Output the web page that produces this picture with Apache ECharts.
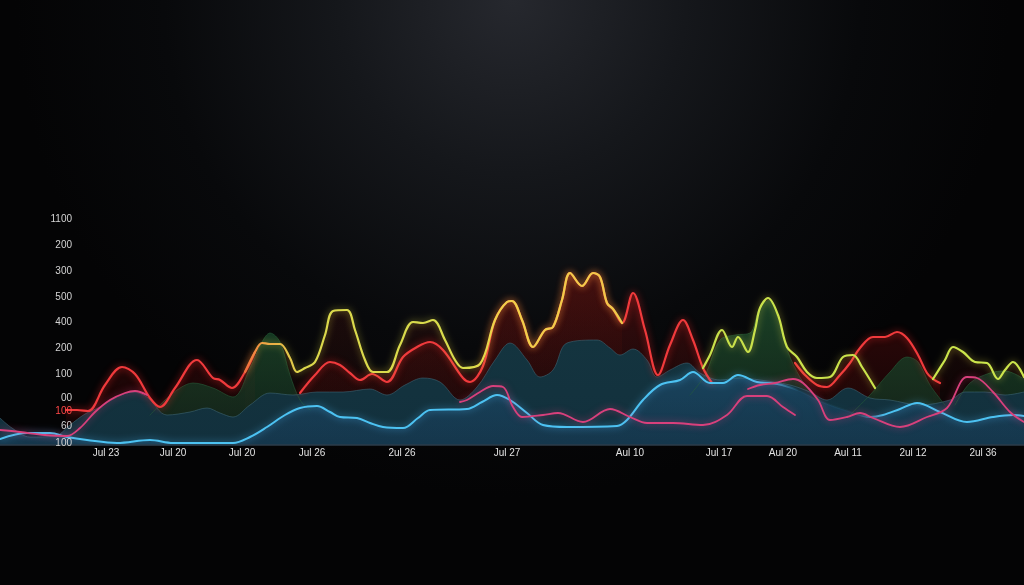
<!DOCTYPE html>
<html><head><meta charset="utf-8">
<script src="https://cdn.jsdelivr.net/npm/echarts@6/dist/echarts.min.js"></script>
<style>html,body{margin:0;padding:0;background:#050506;}#c{width:1024px;height:585px;}</style>
</head><body><div id="c"></div><script>
// ---- tick labels ----
const xTickPos = [106,173,242,312,402,507,630,719,783,848,913,983];
const xTickLabels = ["Jul 23","Jul 20","Jul 20","Jul 26","2ul 26","Jul 27","Aul 10","Jul 17","Aul 20","Aul 11","2ul 12","2ul 36"];
const yTickPos = [1.7,18.3,33.3,46.7,71,96.7,122.7,147.7,173.3,199.3,226];
const yTickLabels = ["100","60","100","00","100","200","400","500","300","200","1100"];

// ---- series values [t, value]; null = gap ----
const redVals = [[66,35],[77,35],[88,34],[105,60],[122,78],[135,71],[150,47],[160,38],[175,57],[197,85],[213,67],[220,65],[232,57],[245,73],[255,93],[265,null],
 [300,52],[315,70],[330,83],[340,80],[350,72],[360,65],[372,71],[387,63],[403,88],[417,98],[430,103],[443,95],[463,67],[470,63],[483,79],
 [495,125],[507,143],[512,144],[522,125],[533,98],[545,115],[553,118],[562,145],[570,172],[582,159],[593,172],[600,168],[607,142],[613,136],[622,122],
 [633,152],[645,115],[658,70],[670,100],[683,125],[693,105],[703,77],[712,62],[720,null],
 [795,82],[805,70],[817,60],[827,58],[840,70],[850,82],[860,97],[873,108],[885,108],[897,113],[907,107],[918,90],[927,72],[933,66],[940,62]];
const yellowVals = [[245,73],[255,93],[262,102],[270,101],[280,101],[290,87],[297,73],[305,77],[315,83],[325,110],[333,134],[347,135],[355,115],[365,85],[373,73],[387,73],
 [400,100],[413,123],[423,122],[433,125],[445,105],[455,85],[463,77],[480,81],[495,125],[507,143],[512,144],[522,125],[533,98],[545,115],[553,118],[562,145],
 [570,172],[582,159],[593,172],[600,168],[607,142],[613,136],[622,122],[650,null],
 [703,77],[710,90],[722,115],[732,98],[738,108],[748,93],[755,115],[760,137],[768,147],[778,130],[787,98],[797,88],[807,73],[817,67],[830,68],[843,88],[853,90],[862,78],[875,57],[900,null],
 [933,66],[945,85],[953,98],[963,93],[975,83],[987,82],[998,66],[1005,75],[1013,83],[1024,68]];
const blueVals = [[0,6],[27,12],[50,12],[67,8],[87,5],[117,2],[150,5],[173,2],[233,2],[250,8],[267,18],[285,30],[300,37],[317,39],[330,33],[340,28],[357,27],[370,22],[383,18],[403,17],
 [418,27],[430,35],[467,36],[482,43],[497,50],[510,45],[527,32],[543,20],[567,18],[617,19],[627,25],[643,45],[660,60],[680,65],[693,73],[710,62],[723,62],[738,70],[757,63],
 [770,62],[782,60],[800,54],[820,44],[845,35],[870,28],[883,30],[900,36],[917,42],[940,33],[967,23],[993,28],[1013,30],[1024,29]];
const pinkVals = [[0,15],[20,13],[45,10],[67,9],[80,17],[95,33],[110,45],[125,52],[135,54],[147,50],[160,null],
 [460,43],[467,45],[480,53],[493,59],[503,58],[513,38],[522,28],[543,30],[558,32],[583,23],[610,36],[630,28],[647,22],[673,22],[703,20],[727,30],[747,49],[767,49],[783,38],[795,30],[805,null]];
const pinkUpperVals = [[748,56],[760,60],[775,62],[793,66],[803,62],[818,45],[830,25],[847,28],[860,32],[873,27],[900,18],[927,28],[947,37],[967,68],[977,67],[993,53],[1010,33],[1024,23]];
const tealVals = [[0,27],[12,17],[30,8],[55,9],[70,20],[85,31],[100,38],[117,48],[133,53],[147,48],[167,30],[190,33],[207,37],[220,32],[233,28],[250,40],[270,52],[293,50],[317,53],[343,53],
 [370,56],[387,50],[405,60],[423,67],[440,63],[460,45],[477,58],[495,85],[510,102],[527,85],[540,68],[553,75],[567,102],[597,105],[610,97],[620,90],[633,96],[647,85],[657,68],
 [670,75],[687,82],[700,72],[720,65],[740,67],[760,65],[790,60],[810,53],[827,45],[848,57],[870,47],[890,45],[920,40],[950,45],[965,53],[985,53],[1005,50],[1024,53]];
const greenVals = [[150,30],[165,45],[180,57],[193,62],[213,57],[233,48],[250,77],[262,103],[270,112],[280,103],[290,70],[300,45],[310,35],[320,null],
 [690,50],[705,70],[720,105],[735,110],[750,112],[760,138],[770,145],[780,118],[790,88],[805,60],[820,45],[835,null],
 [850,30],[870,50],[890,73],[907,88],[918,83],[930,60],[945,40],[950,null],
 [955,40],[970,62],[990,72],[1005,74],[1024,66]];

const G = echarts.graphic;
const SM = 0.35;
function vgrad(top, bot){ return new G.LinearGradient(0,0,0,1,[{offset:0,color:top},{offset:1,color:bot}]); }
function area(data, fill){
  return {type:'line', data, smooth:SM, symbol:'none', showSymbol:false, connectNulls:false,
    lineStyle:{width:0, opacity:0}, areaStyle:{color:fill, origin:'start', opacity:1}, z:1, silent:true, animation:false};
}
function line(data, color, w, glow){
  return {type:'line', data, smooth:SM, symbol:'none', showSymbol:false, connectNulls:false,
    lineStyle:{color, width:w, shadowBlur:glow?7:0, shadowColor:glow||'transparent', cap:'round', join:'round'},
    z:5, silent:true, animation:false};
}
function nearest(arr, v){ let b=0; for(let i=1;i<arr.length;i++){ if(Math.abs(arr[i]-v)<Math.abs(arr[b]-v)) b=i; } return b; }

const yellowStroke = new G.LinearGradient(240,0,1024,0,[
  {offset:0,color:'#f0603a'},{offset:0.03,color:'#f0a444'},{offset:0.08,color:'#dcd84c'},
  {offset:0.29,color:'#d8dc4c'},{offset:0.33,color:'#f0d24a'},{offset:0.47,color:'#f2c84a'},
  {offset:0.58,color:'#c8e04a'},{offset:1,color:'#cce64c'}], true);
const blueStroke = new G.LinearGradient(0,0,1024,0,[
  {offset:0,color:'#4cc2f2'},{offset:0.745,color:'#4cc2f2'},{offset:0.78,color:'rgba(76,194,242,0.05)'},
  {offset:0.835,color:'rgba(76,194,242,0.05)'},{offset:0.865,color:'#4cc2f2'},{offset:1,color:'#4cc2f2'}], true);

const chart = echarts.init(document.getElementById('c'));
chart.setOption({
  backgroundColor: {type:'radial', x:0.5, y:0, r:0.85, colorStops:[
    {offset:0,color:'#26282e'},{offset:0.35,color:'#15171b'},{offset:0.7,color:'#08090b'},{offset:1,color:'#040405'}]},
  animation:false,
  grid:{left:0, right:0, top:219, bottom:140, containLabel:false},
  xAxis:{type:'value', min:0, max:1024, z:20,
    axisLine:{show:true, lineStyle:{color:'#2c3d4a', width:1.5}},
    axisTick:{show:false}, splitLine:{show:false},
    axisLabel:{customValues:xTickPos, margin:3, fontSize:10, color:'#e2e2e2', fontFamily:'Liberation Sans, Arial, sans-serif',
      formatter:(v)=>xTickLabels[nearest(xTickPos,v)]}},
  yAxis:{type:'value', min:0, max:226, position:'left', offset:-80, z:20,
    axisLine:{show:false}, axisTick:{show:false}, splitLine:{show:false},
    axisLabel:{customValues:yTickPos, margin:8, fontSize:10, color:'#d4d4d4', fontFamily:'Liberation Sans, Arial, sans-serif',
      formatter:(v)=>{const i=nearest(yTickPos,v); return i===2 ? '{r|'+yTickLabels[i]+'}' : yTickLabels[i];},
      rich:{r:{color:'#ff4848', fontSize:10, fontFamily:'Liberation Sans, Arial, sans-serif'}}}},
  series:[
    area(redVals, vgrad('rgba(120,16,16,0.45)','rgba(90,10,10,0.15)')),
    area(yellowVals, vgrad('rgba(80,18,12,0.35)','rgba(60,14,10,0.1)')),
    area(greenVals, vgrad('rgba(26,74,42,0.85)','rgba(18,52,36,0.6)')),
    area(tealVals, vgrad('#14343f','#12303d')),
    area(blueVals, vgrad('rgba(34,92,140,0.4)','rgba(28,70,110,0.3)')),
    line(tealVals, 'rgba(70,112,128,0.5)', 1, null),
    line(greenVals, 'rgba(40,96,60,0.55)', 1, null),
    line(redVals, '#f03a3c', 2.2, 'rgba(255,40,40,0.7)'),
    line(yellowVals, yellowStroke, 2.2, 'rgba(230,220,70,0.6)'),
    line(blueVals, blueStroke, 2, 'rgba(80,190,255,0.6)'),
    line(pinkVals, '#d8407c', 1.8, 'rgba(230,60,120,0.6)'),
    line(pinkUpperVals, '#d8407c', 1.8, 'rgba(230,60,120,0.6)')
  ]
});
</script></body></html>
